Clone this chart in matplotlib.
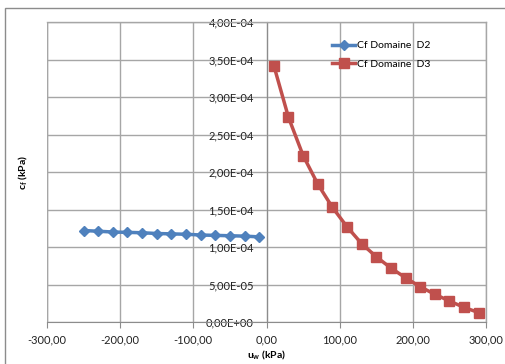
import matplotlib
matplotlib.use("Agg")
import matplotlib.pyplot as plt
from matplotlib.patches import Rectangle
from matplotlib.ticker import FuncFormatter, MultipleLocator

# Data
uw_d2 = [-250, -230, -210, -190, -170, -150, -130, -110, -90, -70, -50, -30, -10]
cf_d2 = [1.22e-4, 1.21e-4, 1.20e-4, 1.195e-4, 1.19e-4, 1.18e-4, 1.175e-4, 1.17e-4,
         1.16e-4, 1.155e-4, 1.15e-4, 1.145e-4, 1.135e-4]
uw_d3 = [10, 30, 50, 70, 90, 110, 130, 150, 170, 190, 210, 230, 250, 270, 290]
cf_d3 = [3.42e-4, 2.73e-4, 2.22e-4, 1.84e-4, 1.53e-4, 1.27e-4, 1.045e-4, 0.87e-4,
         0.72e-4, 0.59e-4, 0.47e-4, 0.37e-4, 0.28e-4, 0.195e-4, 0.125e-4]
label_d2 = "Cf Domaine  D2"
label_d3 = "Cf Domaine  D3"

plt.rcParams['font.family'] = ['Lato', 'DejaVu Sans']

W, H = 506, 364
fig = plt.figure(figsize=(W/100, H/100), dpi=100)
fig.patch.set_facecolor('white')

# outer chart frame
fig.patches.append(Rectangle((5/W, -0.1), 1.2, (H-8)/H + 0.1, transform=fig.transFigure,
                             fill=False, edgecolor='#8c8c8c', linewidth=1.0))

ax = fig.add_axes([47/W, 1-322/H, (486-47)/W, (322-22)/H])
ax.set_xlim(-300, 300)
ax.set_ylim(0, 4e-4)
ax.xaxis.set_major_locator(MultipleLocator(100))
ax.yaxis.set_major_locator(MultipleLocator(0.5e-4))
ax.grid(True, color='#a6a6a6', linewidth=1.0)
ax.set_axisbelow(True)

for s in ['top', 'right']:
    ax.spines[s].set_color('#a6a6a6')
    ax.spines[s].set_linewidth(1.0)
ax.spines['left'].set_position(('data', 0))
ax.spines['left'].set_color('#8c8c8c')
ax.spines['bottom'].set_color('#8c8c8c')

# outer left border of plot area
ax.axvline(-300, color='#a6a6a6', linewidth=1.0, zorder=0)

def fx(v, pos):
    return f"{v:.2f}".replace('.', ',')

def fy(v, pos):
    s = f"{v:.2E}".replace('.', ',')
    return s

ax.xaxis.set_major_formatter(FuncFormatter(fx))
ax.yaxis.set_major_formatter(FuncFormatter(fy))
ax.tick_params(axis='x', direction='out', length=4, color='#8c8c8c', labelsize=8,
               pad=5, labelcolor='#222222')
ax.tick_params(axis='y', length=0, labelsize=8, pad=9, labelcolor='#222222')

ax.plot(uw_d2, cf_d2, color='#4F81BD', linewidth=2.5, marker='D', markersize=5,
        label=label_d2, zorder=3)
ax.plot(uw_d3, cf_d3, color='#C0504D', linewidth=2.5, marker='s', markersize=6.5,
        label=label_d3, zorder=3)

leg = ax.legend(loc='upper left', bbox_to_anchor=(0.64, 0.95), frameon=False,
                fontsize=7.5, handlelength=2.2, handletextpad=0.2, labelspacing=0.9,
                borderaxespad=0)

ax.set_xlabel(r"u$_\mathregular{w}$ (kPa)", fontsize=7.5, fontweight='bold')
ax.set_ylabel(r"c$_\mathregular{f}$ (kPa)", fontsize=7.5, fontweight='bold')
ax.yaxis.set_label_coords(-(47-30)/(486-47), 0.5)
ax.xaxis.set_label_coords(0.5, -(348-322)/300)

fig.savefig("out.png", dpi=100)
